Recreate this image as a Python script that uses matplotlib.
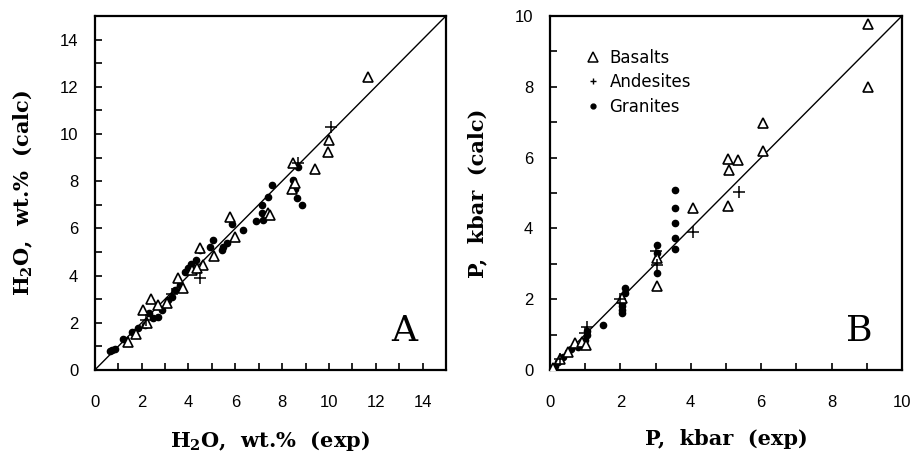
import matplotlib
matplotlib.use("Agg")
import matplotlib.pyplot as plt
from matplotlib.ticker import MultipleLocator
from matplotlib.lines import Line2D

plt.rcParams['mathtext.default'] = 'regular'

# ---- panel A: H2O wt.% (exp vs calc) ----
a_bas_x = [1.41, 1.75, 2.05, 2.22, 2.39, 3.55, 3.76, 4.15, 4.49, 4.62, 5.08, 5.77, 5.98,
           7.4, 7.48, 8.42, 8.46, 8.55, 9.4, 9.95, 10.0, 11.67, 3.08, 2.7, 4.35]
a_bas_y = [1.19, 1.53, 2.54, 2.0, 3.0, 3.9, 3.47, 4.24, 5.17, 4.45, 4.83, 6.48, 5.64,
           6.65, 6.57, 7.67, 8.77, 7.92, 8.5, 9.24, 9.75, 12.4, 2.84, 2.75, 4.3]
a_and_x = [4.49, 8.7, 10.1, 3.3, 2.2]
a_and_y = [3.9, 8.77, 10.3, 3.2, 2.1]
a_gra_x = [0.64, 0.73, 0.85, 1.58, 1.84, 2.14, 2.48, 2.69, 2.86, 3.12, 3.42, 3.63, 3.85,
           3.97, 4.32, 4.91, 5.04, 5.43, 5.47, 5.64, 5.85, 6.32, 6.88, 7.14, 7.14, 7.18,
           7.4, 7.56, 8.46, 8.55, 8.63, 8.68, 8.85, 4.5, 4.1, 3.3, 2.3, 1.2]
a_gra_y = [0.8, 0.85, 0.89, 1.61, 1.78, 1.91, 2.2, 2.25, 2.54, 2.97, 3.39, 3.6, 4.15,
           4.32, 4.66, 5.21, 5.51, 5.08, 5.21, 5.38, 6.19, 5.93, 6.31, 6.65, 6.99, 6.36,
           7.33, 7.84, 8.05, 7.67, 7.29, 8.6, 6.99, 5.1, 4.5, 3.1, 2.4, 1.3]

# ---- panel B: P kbar (exp vs calc) ----
b_bas_x = [0.1, 0.3, 0.5, 0.7, 0.9, 1.02, 2.05, 3.04, 3.04, 4.06, 5.06, 5.06, 5.09,
           5.34, 6.05, 6.05, 9.03, 9.03]
b_bas_y = [0.05, 0.3, 0.5, 0.75, 0.79, 0.7, 2.03, 2.37, 3.16, 4.58, 4.63, 5.96, 5.65,
           5.93, 6.19, 6.98, 7.99, 9.77]
b_and_x = [0.3, 1.05, 1.0, 2.0, 3.04, 3.0, 4.06, 5.37]
b_and_y = [0.3, 1.21, 1.05, 2.0, 2.97, 3.35, 3.9, 5.03]
b_gra_x = [0.05, 0.14, 0.23, 0.37, 0.51, 0.6, 0.8, 1.0, 1.05, 1.05, 1.5, 2.05, 2.05,
           2.05, 2.05, 2.13, 2.13, 3.04, 3.04, 3.04, 3.55, 3.55, 3.55, 3.55, 3.55]
b_gra_y = [0.05, 0.1, 0.23, 0.37, 0.51, 0.6, 0.65, 0.85, 1.0, 1.1, 1.27, 1.6, 1.7,
           1.8, 1.9, 2.18, 2.32, 2.74, 3.3, 3.53, 3.42, 3.73, 4.15, 4.58, 5.08]

label_font = dict(family='DejaVu Serif', size=15, weight='bold')
tick_font = 'Liberation Sans'

fig = plt.figure(figsize=(9.12, 4.55), dpi=100)
axA = fig.add_axes([0.104, 0.187, 0.385, 0.778])
axB = fig.add_axes([0.603, 0.187, 0.386, 0.778])


def draw(ax, lim, bas, andes, gra, letter):
    ax.plot([0, lim], [0, lim], color='black', lw=1.0, zorder=1)
    ax.plot(bas[0], bas[1], ls='none', marker='^', ms=7.5, mfc='white', mec='black',
            mew=1.2, zorder=3)
    ax.plot(andes[0], andes[1], ls='none', marker='+', ms=9, mec='black', mew=1.1, zorder=4)
    ax.plot(gra[0], gra[1], ls='none', marker='o', ms=4.5, mfc='black', mec='black', zorder=2)
    ax.set_xlim(0, lim)
    ax.set_ylim(0, lim)
    ax.xaxis.set_major_locator(MultipleLocator(2))
    ax.yaxis.set_major_locator(MultipleLocator(2))
    ax.xaxis.set_minor_locator(MultipleLocator(1))
    ax.yaxis.set_minor_locator(MultipleLocator(1))
    ax.tick_params(which='both', direction='in', length=5, width=1.2,
                   top=False, right=False)
    ax.tick_params(which='major', labelsize=12)
    ax.tick_params(axis='x', which='major', pad=18)
    ax.tick_params(axis='y', which='major', pad=12)
    for lab in ax.get_xticklabels() + ax.get_yticklabels():
        lab.set_fontfamily(tick_font)
    for s in ax.spines.values():
        s.set_linewidth(1.6)
    ax.text(0.88, 0.11, letter, transform=ax.transAxes, family='DejaVu Serif',
            fontsize=26, ha='center', va='center')


draw(axA, 15, (a_bas_x, a_bas_y), (a_and_x, a_and_y), (a_gra_x, a_gra_y), 'A')
draw(axB, 10, (b_bas_x, b_bas_y), (b_and_x, b_and_y), (b_gra_x, b_gra_y), 'B')

axA.set_xlabel('H$_2$O,  wt.%  (exp)', labelpad=14, **label_font)
axA.set_ylabel('H$_2$O,  wt.%  (calc)', labelpad=18, **label_font)
axB.set_xlabel('P,  kbar  (exp)', labelpad=14, **label_font)
axB.set_ylabel('P,  kbar  (calc)', labelpad=20, **label_font)

handles = [
    Line2D([], [], ls='none', marker='^', ms=6.5, mfc='white', mec='black', mew=1.1),
    Line2D([], [], ls='none', marker='+', ms=5, mec='black', mew=1.0),
    Line2D([], [], ls='none', marker='o', ms=3.5, mfc='black', mec='black'),
]
axB.legend(handles, ['Basalts', 'Andesites', 'Granites'], loc='upper left',
           bbox_to_anchor=(0.06, 0.95), frameon=False, handlelength=0.8,
           handletextpad=0.6, labelspacing=0.4, prop=dict(family='DejaVu Sans', size=12))

fig.savefig('out.png', dpi=100)
